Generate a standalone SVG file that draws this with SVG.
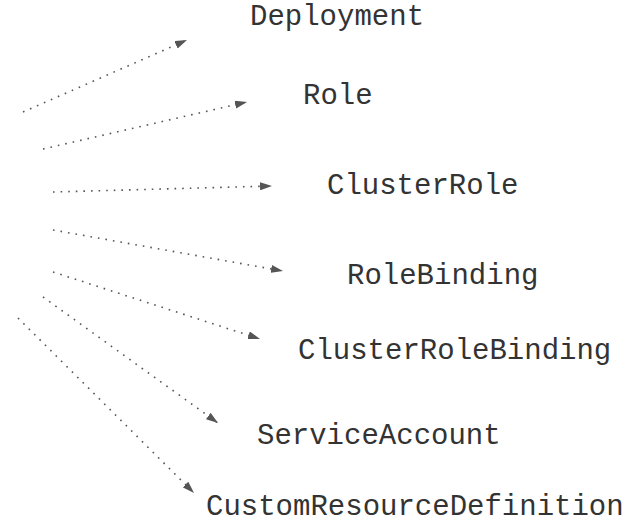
<svg xmlns="http://www.w3.org/2000/svg" width="636" height="525" viewBox="0 0 636 525">
  <style>
    .label { font-family: "Liberation Mono", "Courier New", monospace; font-size: 29px; fill: #333; }
    .link { fill: none; stroke: #555; stroke-width: 1.6; stroke-dasharray: 1.6 6; stroke-linecap: butt; }
  </style>
  <defs>
    <marker id="arrow" viewBox="0 0 12 8" refX="12" refY="4" markerWidth="12" markerHeight="8" markerUnits="userSpaceOnUse" orient="auto">
      <path d="M0,0 L12,4 L0,8 Z" fill="#555"/>
    </marker>
  </defs>
  <rect width="636" height="525" fill="#fff"/>

  <g id="connectors">
    <line class="link" x1="23" y1="112" x2="187" y2="40" marker-end="url(#arrow)"/>
    <line class="link" x1="43" y1="149" x2="247" y2="102" marker-end="url(#arrow)"/>
    <line class="link" x1="53" y1="192" x2="272" y2="186" marker-end="url(#arrow)"/>
    <line class="link" x1="53" y1="230" x2="283" y2="271" marker-end="url(#arrow)"/>
    <line class="link" x1="53" y1="272" x2="260" y2="339" marker-end="url(#arrow)"/>
    <line class="link" x1="43" y1="297" x2="218" y2="423" marker-end="url(#arrow)"/>
    <line class="link" x1="18" y1="318" x2="194" y2="493" marker-end="url(#arrow)"/>
  </g>

  <g id="deployment"><text class="label" x="250" y="25">Deployment</text></g>
  <g id="role"><text class="label" x="303" y="104">Role</text></g>
  <g id="cluster-role"><text class="label" x="327" y="194">ClusterRole</text></g>
  <g id="role-binding"><text class="label" x="347" y="284">RoleBinding</text></g>
  <g id="cluster-role-binding"><text class="label" x="298" y="359">ClusterRoleBinding</text></g>
  <g id="service-account"><text class="label" x="257" y="444">ServiceAccount</text></g>
  <g id="crd"><text class="label" x="206" y="515">CustomResourceDefinition</text></g>
</svg>
